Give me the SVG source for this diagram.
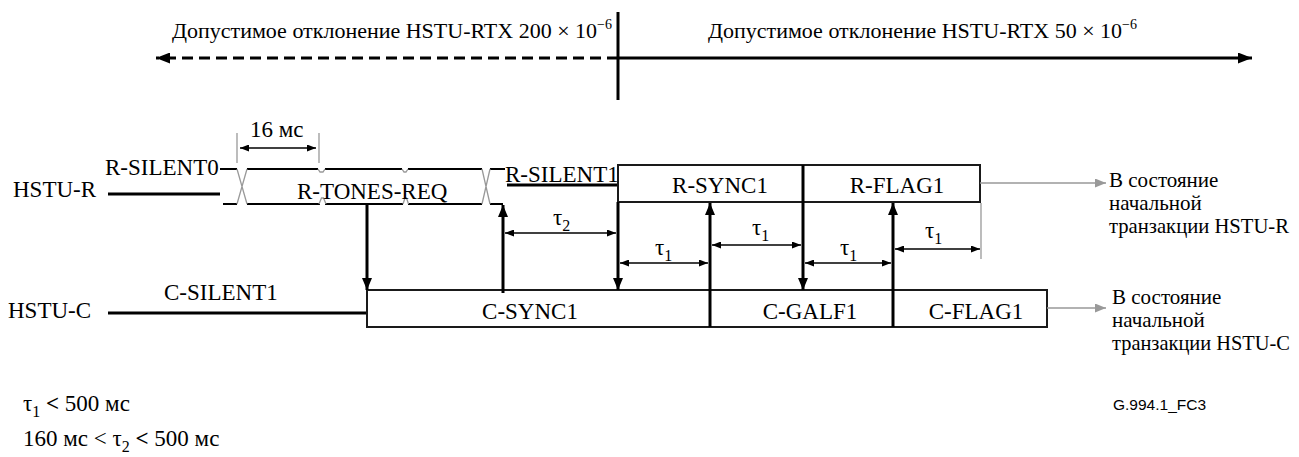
<svg xmlns="http://www.w3.org/2000/svg" width="1299" height="457" viewBox="0 0 1299 457">
<style>
text{font-family:'Liberation Serif','Times New Roman',serif;font-size:23px;fill:#000}
.sm{font-size:22px}
.sub{font-size:16px}
.note{font-size:21px}
text.code{font-family:'Liberation Sans',Arial,sans-serif;font-size:15.5px}
.thick{stroke:#000;stroke-width:3;fill:none}
.med{stroke:#000;stroke-width:2;fill:none}
.thin{stroke:#000;stroke-width:1.3;fill:none}
.gray{stroke:#999;stroke-width:1.3;fill:none}
.box{fill:#fff;stroke:#1a1a1a;stroke-width:2}
</style>
<defs>
<marker id="ah" viewBox="0 0 12 10" refX="12" refY="5" markerWidth="12" markerHeight="10" markerUnits="userSpaceOnUse" orient="auto"><path d="M0,0 L12,5 L0,10 z" fill="#000"/></marker>
<marker id="at" viewBox="0 0 9 7" refX="9" refY="3.5" markerWidth="9" markerHeight="7" markerUnits="userSpaceOnUse" orient="auto-start-reverse"><path d="M0,0 L9,3.5 L0,7 z" fill="#000"/></marker>
<marker id="ag" viewBox="0 0 11 9" refX="11" refY="4.5" markerWidth="11" markerHeight="9" markerUnits="userSpaceOnUse" orient="auto"><path d="M0,0 L11,4.5 L0,9 z" fill="#999"/></marker>
<marker id="ab" viewBox="0 0 14 11" refX="14" refY="5.5" markerWidth="14" markerHeight="11" markerUnits="userSpaceOnUse" orient="auto"><path d="M0,0 L14,5.5 L0,11 z" fill="#000"/></marker>
</defs>

<g id="tolerance">
<line x1="618" y1="12" x2="618" y2="100" class="thick"/>
<line x1="618" y1="58" x2="156" y2="58" class="thick" stroke-dasharray="11,6" marker-end="url(#ab)"/>
<line x1="618" y1="58" x2="1252" y2="58" class="thick" marker-end="url(#ab)"/>
<text x="172" y="38" class="sm">Допустимое отклонение HSTU-RTX 200 × 10<tspan dy="-9" font-size="14">−6</tspan></text>
<text x="708" y="38" class="sm">Допустимое отклонение HSTU-RTX 50 × 10<tspan dy="-9" font-size="14">−6</tspan></text>
</g>

<g id="hstu-r">
<text x="13" y="197">HSTU-R</text>
<line x1="108" y1="194" x2="220" y2="194" class="thick"/>
<text x="105" y="175">R-SILENT0</text>
</g>

<g id="r-tones-req">
<path d="M220,169 H237 M247,169 H318 M325,169 H402 M408,169 H482 M490,169 H505" class="med"/>
<path d="M223,204 H237 M247,204 H320 M325,204 H403 M408,204 H482 M490,204 H503" class="med"/>
<path d="M237,169 L247,204 M247,169 L237,204 M482,169 L490,204 M490,169 L482,204" class="gray"/>
<path d="M319,204 L321.5,198 L323.5,198 L326,204 M403,204 L405,198 L406.5,198 L408.5,204 M318,169 L320,172 L323,172 L325,169 M402,169 L404,172 L406,172 L408,169" class="gray"/>
<text x="297" y="199">R-TONES-REQ</text>
<line x1="237" y1="133" x2="237" y2="163" class="gray" stroke="#555"/>
<line x1="319" y1="133" x2="319" y2="163" class="gray" stroke="#555"/>
<line x1="240" y1="148" x2="316" y2="148" class="thin" marker-start="url(#at)" marker-end="url(#at)"/>
<text x="250" y="137">16 мс</text>
</g>

<g id="r-silent1">
<text x="505" y="182">R-SILENT1</text>
<line x1="507" y1="185" x2="618" y2="185" class="thick"/>
</g>

<g id="r-box">
<rect x="618" y="165" width="362" height="37" class="box"/>
<text x="720" y="193" text-anchor="middle">R-SYNC1</text>
<text x="897" y="193" text-anchor="middle">R-FLAG1</text>
</g>

<g id="r-exit">
<line x1="980" y1="183" x2="1106" y2="183" class="gray" stroke-width="2" marker-end="url(#ag)"/>
<text x="1109" y="187" class="note">В состояние</text>
<text x="1109" y="210" class="note">начальной</text>
<text x="1109" y="233" class="note" textLength="180" lengthAdjust="spacingAndGlyphs">транзакции HSTU-R</text>
</g>

<g id="hstu-c">
<text x="8" y="318">HSTU-C</text>
<line x1="108" y1="313" x2="367" y2="313" class="thick"/>
<text x="164" y="300">C-SILENT1</text>
</g>

<g id="c-box">
<rect x="367" y="290" width="680" height="37" class="box"/>
<text x="530" y="319" text-anchor="middle">C-SYNC1</text>
<text x="810" y="319" text-anchor="middle">C-GALF1</text>
<text x="976" y="319" text-anchor="middle">C-FLAG1</text>
</g>

<g id="c-exit">
<line x1="1047" y1="308" x2="1106" y2="308" class="gray" stroke-width="2" marker-end="url(#ag)"/>
<text x="1112" y="304" class="note">В состояние</text>
<text x="1112" y="327" class="note">начальной</text>
<text x="1112" y="350" class="note" textLength="178" lengthAdjust="spacingAndGlyphs">транзакции HSTU-C</text>
</g>

<g id="connectors">
<line x1="367" y1="204" x2="367" y2="290" class="thick" marker-end="url(#ah)"/>
<line x1="503" y1="293" x2="503" y2="205" class="thick" marker-end="url(#ah)"/>
<line x1="618" y1="202" x2="618" y2="290" class="thick" marker-end="url(#ah)"/>
<line x1="710" y1="327" x2="710" y2="203" class="thick" marker-end="url(#ah)"/>
<line x1="803" y1="165" x2="803" y2="290" class="thick" marker-end="url(#ah)"/>
<line x1="893" y1="327" x2="893" y2="203" class="thick" marker-end="url(#ah)"/>
<line x1="981" y1="203" x2="981" y2="259" class="gray" stroke="#777"/>
<line x1="505" y1="233" x2="616" y2="233" class="thin" marker-start="url(#at)" marker-end="url(#at)"/>
<line x1="620" y1="263" x2="708" y2="263" class="thin" marker-start="url(#at)" marker-end="url(#at)"/>
<line x1="712" y1="245" x2="801" y2="245" class="thin" marker-start="url(#at)" marker-end="url(#at)"/>
<line x1="805" y1="263" x2="891" y2="263" class="thin" marker-start="url(#at)" marker-end="url(#at)"/>
<line x1="895" y1="249" x2="980" y2="249" class="thin" marker-start="url(#at)" marker-end="url(#at)"/>
</g>

<g id="labels">
<text x="553" y="225">τ<tspan class="sub" dy="6">2</tspan></text>
<text x="655" y="255">τ<tspan class="sub" dy="6">1</tspan></text>
<text x="752" y="235">τ<tspan class="sub" dy="6">1</tspan></text>
<text x="840" y="255">τ<tspan class="sub" dy="6">1</tspan></text>
<text x="925" y="238">τ<tspan class="sub" dy="6">1</tspan></text>
</g>

<g id="notes">
<text x="23" y="411">τ<tspan class="sub" dy="6">1</tspan><tspan dy="-6"> </tspan><tspan font-weight="bold">&lt;</tspan> 500 мс</text>
<text x="23" y="446">160 мс &lt; τ<tspan class="sub" dy="6">2</tspan><tspan dy="-6"> </tspan><tspan font-weight="bold">&lt;</tspan> 500 мс</text>
<text x="1113" y="410" class="code">G.994.1_FC3</text>
</g>
</svg>
